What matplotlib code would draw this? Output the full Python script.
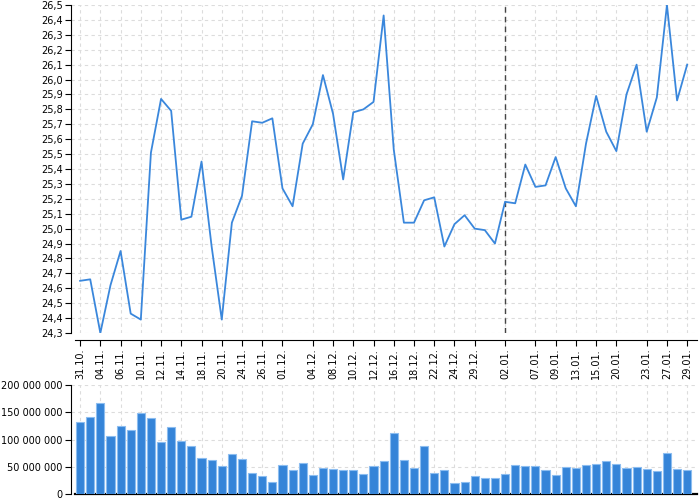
import matplotlib
matplotlib.use("Agg")
import matplotlib.pyplot as plt
from matplotlib.ticker import FuncFormatter, MultipleLocator, FixedLocator, FixedFormatter

dates = ["31.10", "03.11", "04.11", "05.11", "06.11", "07.11", "10.11", "11.11",
         "12.11", "13.11", "14.11", "17.11", "18.11", "19.11", "20.11", "21.11",
         "24.11", "25.11", "26.11", "28.11", "01.12", "02.12", "03.12", "04.12",
         "05.12", "08.12", "09.12", "10.12", "11.12", "12.12", "15.12", "16.12",
         "17.12", "18.12", "19.12", "22.12", "23.12", "24.12", "25.12", "29.12",
         "30.12", "31.12", "02.01", "03.01", "04.01", "07.01", "08.01", "09.01",
         "10.01", "13.01", "14.01", "15.01", "16.01", "20.01", "21.01", "22.01",
         "23.01", "24.01", "27.01", "28.01", "29.01"]

prices = [24.65, 24.66, 24.30, 24.62, 24.85, 24.43, 24.39, 25.51, 25.87, 25.79,
          25.06, 25.08, 25.45, 24.88, 24.39, 25.04, 25.22, 25.72, 25.71, 25.74,
          25.27, 25.15, 25.57, 25.70, 26.03, 25.77, 25.33, 25.78, 25.80, 25.85,
          26.43, 25.53, 25.04, 25.04, 25.19, 25.21, 24.88, 25.03, 25.09, 25.00,
          24.99, 24.90, 25.18, 25.17, 25.43, 25.28, 25.29, 25.48, 25.27, 25.15,
          25.57, 25.89, 25.65, 25.52, 25.90, 26.10, 25.65, 25.88, 26.50, 25.86,
          26.10]

volumes_m = [132.8, 140.7, 166.4, 107.0, 124.0, 118.0, 149.0, 139.5, 96.0, 123.0,
             96.7, 88.0, 66.7, 62.4, 52.0, 72.8, 63.6, 39.0, 33.7, 22.6,
             53.0, 44.0, 56.3, 35.5, 47.7, 45.9, 44.0, 44.0, 36.0, 51.4,
             60.6, 112.0, 61.8, 47.0, 87.5, 38.6, 44.0, 19.6, 21.4, 33.0,
             28.8, 29.4, 36.0, 52.6, 51.4, 51.4, 43.5, 34.3, 50.2, 47.7,
             53.9, 55.0, 60.0, 55.0, 47.0, 49.6, 45.3, 41.6, 75.9, 45.3,
             44.7]

tick_labels = ["31.10", "04.11", "06.11", "10.11", "12.11", "14.11", "18.11",
               "20.11", "24.11", "26.11", "01.12", "04.12", "08.12", "10.12",
               "12.12", "16.12", "18.12", "22.12", "24.12", "29.12", "02.01",
               "07.01", "09.01", "13.01", "15.01", "20.01", "23.01", "27.01",
               "29.01"]

marker_date = "02.01"

plt.rcParams['font.family'] = ['DejaVu Sans']
plt.rcParams['font.size'] = 7

x = list(range(len(dates)))
volumes = [v * 1e6 for v in volumes_m]
tick_pos = [dates.index(t) for t in tick_labels]

fig = plt.figure(figsize=(7, 5), dpi=100)
ax1 = fig.add_axes([71/700, 1 - 333/500, (697-71)/700, (333-5)/500])
ax2 = fig.add_axes([71/700, 1 - 494/500, (697-71)/700, (494-385)/500])

line_color = "#3a87dc"
grid_kw = dict(color="#dcdcdc", linestyle=(0, (3, 3)), linewidth=0.8)

xlim = (-0.9, 60.97)

# --- price chart
ax1.plot(x, prices, color=line_color, linewidth=1.3, zorder=3)
ax1.axvline(dates.index(marker_date), color="#444444", linestyle=(0, (4, 3)),
            linewidth=1.0, zorder=2)
ax1.set_xlim(*xlim)
ax1.set_ylim(24.3, 26.5)
ax1.yaxis.set_major_locator(MultipleLocator(0.1))
ax1.yaxis.set_major_formatter(FuncFormatter(lambda v, p: f"{v:.1f}".replace(".", ",")))
ax1.xaxis.set_major_locator(FixedLocator(tick_pos))
ax1.xaxis.set_major_formatter(FixedFormatter([t + "." for t in tick_labels]))
ax1.grid(True, **grid_kw)
ax1.set_axisbelow(True)
for s in ("top", "right"):
    ax1.spines[s].set_visible(False)
ax1.spines["bottom"].set_position(("outward", 5))
ax1.spines["bottom"].set_bounds(-0.5, xlim[1])
ax1.tick_params(axis="both", length=4, width=0.8, pad=2, colors="black")
ax1.tick_params(axis="x", labelrotation=90)

# --- volume chart
ax2.bar(x, volumes, width=0.8, color="#3584d8", edgecolor="#8cbdf0",
        linewidth=0.8, zorder=3)
ax2.set_xlim(*xlim)
ax2.set_ylim(0, 200e6)
ax2.yaxis.set_major_locator(MultipleLocator(50e6))
ax2.yaxis.set_major_formatter(FuncFormatter(
    lambda v, p: f"{int(round(v)):,}".replace(",", " ")))
ax2.xaxis.set_major_locator(FixedLocator(tick_pos))
ax2.xaxis.set_major_formatter(FixedFormatter([""] * len(tick_pos)))
ax2.tick_params(axis="x", length=0)
ax2.tick_params(axis="y", length=4, width=0.8, pad=2)
ax2.grid(True, **grid_kw)
ax2.set_axisbelow(True)
for s in ("top", "right"):
    ax2.spines[s].set_visible(False)
ax2.spines["bottom"].set_linewidth(1.6)
ax2.spines["bottom"].set_bounds(-0.5, xlim[1])

fig.savefig("out.png", dpi=100)
